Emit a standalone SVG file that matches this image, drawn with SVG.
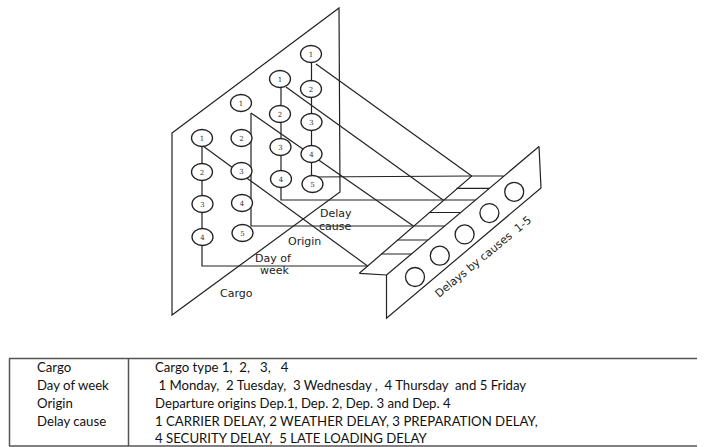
<svg xmlns="http://www.w3.org/2000/svg" width="707" height="447" viewBox="0 0 707 447">
<style>
.ln{fill:none;stroke:#222;stroke-width:1.2}
.nd{fill:#fff;stroke:#222;stroke-width:1.3}
.dg{font-family:"DejaVu Serif",serif;font-size:7px;fill:#333;text-anchor:middle}
.lb{font-family:"DejaVu Sans",sans-serif;font-size:11px;fill:#222}
.tb{font-family:Lato,"Liberation Sans",sans-serif;font-size:13.2px;fill:#111}
.tl{fill:none;stroke:#555;stroke-width:1.5}
</style>
<defs>
<ellipse id="c" rx="10.5" ry="8.5"/>
</defs>
<g id="plane">
<polygon class="ln" points="172,133 339,8 340,192 172,315"/>
</g>
<g id="connectors" class="ln">
<polyline points="202,138 202,266 367.6,266"/>
<line x1="203" y1="146" x2="367.6" y2="266"/>
<polyline points="251,113 251,226 413.4,226"/>
<line x1="251" y1="113" x2="413.4" y2="226"/>
<polyline points="281,79 281,200 443.1,200"/>
<line x1="286" y1="87" x2="443.1" y2="200"/>
<polyline points="311.5,54 311.5,177 471.7,176"/>
<line x1="316" y1="64" x2="471.7" y2="176"/>
</g>
<g id="cargo">
<use href="#c" class="nd" x="202" y="138"/><text class="dg" x="202" y="140.5">1</text>
<use href="#c" class="nd" x="202" y="172"/><text class="dg" x="202" y="174.5">2</text>
<use href="#c" class="nd" x="202.5" y="204"/><text class="dg" x="202.5" y="206.5">3</text>
<use href="#c" class="nd" x="202.5" y="237"/><text class="dg" x="202.5" y="239.5">4</text>
</g>
<g id="dayofweek">
<use href="#c" class="nd" x="241" y="103"/><text class="dg" x="241" y="105.5">1</text>
<use href="#c" class="nd" x="241.5" y="138"/><text class="dg" x="241.5" y="140.5">2</text>
<use href="#c" class="nd" x="241.5" y="171"/><text class="dg" x="241.5" y="173.5">3</text>
<use href="#c" class="nd" x="242" y="203"/><text class="dg" x="242" y="205.5">4</text>
<use href="#c" class="nd" x="242.5" y="233"/><text class="dg" x="242.5" y="235.5">5</text>
</g>
<g id="origin">
<use href="#c" class="nd" x="280" y="79"/><text class="dg" x="280" y="81.5">1</text>
<use href="#c" class="nd" x="280" y="114"/><text class="dg" x="280" y="116.5">2</text>
<use href="#c" class="nd" x="280.5" y="147"/><text class="dg" x="280.5" y="149.5">3</text>
<use href="#c" class="nd" x="281" y="179"/><text class="dg" x="281" y="181.5">4</text>
</g>
<g id="delaycause">
<use href="#c" class="nd" x="311" y="54"/><text class="dg" x="311" y="56.5">1</text>
<use href="#c" class="nd" x="311" y="89"/><text class="dg" x="311" y="91.5">2</text>
<use href="#c" class="nd" x="311.5" y="122"/><text class="dg" x="311.5" y="124.5">3</text>
<use href="#c" class="nd" x="311.5" y="154"/><text class="dg" x="311.5" y="156.5">4</text>
<use href="#c" class="nd" x="312.5" y="184"/><text class="dg" x="312.5" y="186.5">5</text>
</g>
<g id="labels">
<text class="lb" x="320" y="217">Delay</text>
<text class="lb" x="319" y="230">cause</text>
<text class="lb" x="288" y="245">Origin</text>
<text class="lb" x="255" y="262">Day of</text>
<text class="lb" x="260" y="274">week</text>
<text class="lb" x="220" y="297">Cargo</text>
</g>
<g id="shelf" class="ln">
<path d="M359.3,273.3 L471.7,176 L504,176 M386.5,275 L539,146.5 M359.3,273.3 L386.5,275"/>
<path d="M456.5,188.3 H489.4 M443.1,200 H475.5 M428.8,212.5 H460.7 M413.4,226 H444.7 M397.4,240 H428 M381.4,254 H411.4"/>
</g>
<g id="delays">
<path class="ln" d="M539,146.5 L541,188 L386.5,318.3 L386.5,275"/>
<circle class="nd" cx="415" cy="277" r="9.5"/>
<circle class="nd" cx="439.8" cy="255.7" r="9.5"/>
<circle class="nd" cx="464.6" cy="234.4" r="9.5"/>
<circle class="nd" cx="489.4" cy="213.1" r="9.5"/>
<circle class="nd" cx="514.2" cy="191.8" r="9.5"/>
<text class="lb" xml:space="preserve" transform="translate(439,298) rotate(-39.5)">Delays by causes  1-5</text>
</g>
<g id="table">
<path class="tl" d="M9,358.5 H697 M9,446 H697 M9.5,358.5 V446 M128.5,358.5 V446"/>
<text class="tb" x="37" y="372">Cargo</text>
<text class="tb" x="37" y="390">Day of week</text>
<text class="tb" x="37" y="408">Origin</text>
<text class="tb" x="37" y="425.5">Delay cause</text>
<text class="tb" x="155" y="372" xml:space="preserve">Cargo type 1,  2,   3,   4</text>
<text class="tb" x="155" y="390" xml:space="preserve"> 1 Monday,  2 Tuesday,  3 Wednesday ,  4 Thursday  and 5 Friday</text>
<text class="tb" x="155" y="408">Departure origins Dep.1, Dep. 2, Dep. 3 and Dep. 4</text>
<text class="tb" x="155" y="426">1 CARRIER DELAY, 2 WEATHER DELAY, 3 PREPARATION DELAY,</text>
<text class="tb" x="155" y="443" xml:space="preserve">4 SECURITY DELAY,  5 LATE LOADING DELAY</text>
</g>
</svg>
